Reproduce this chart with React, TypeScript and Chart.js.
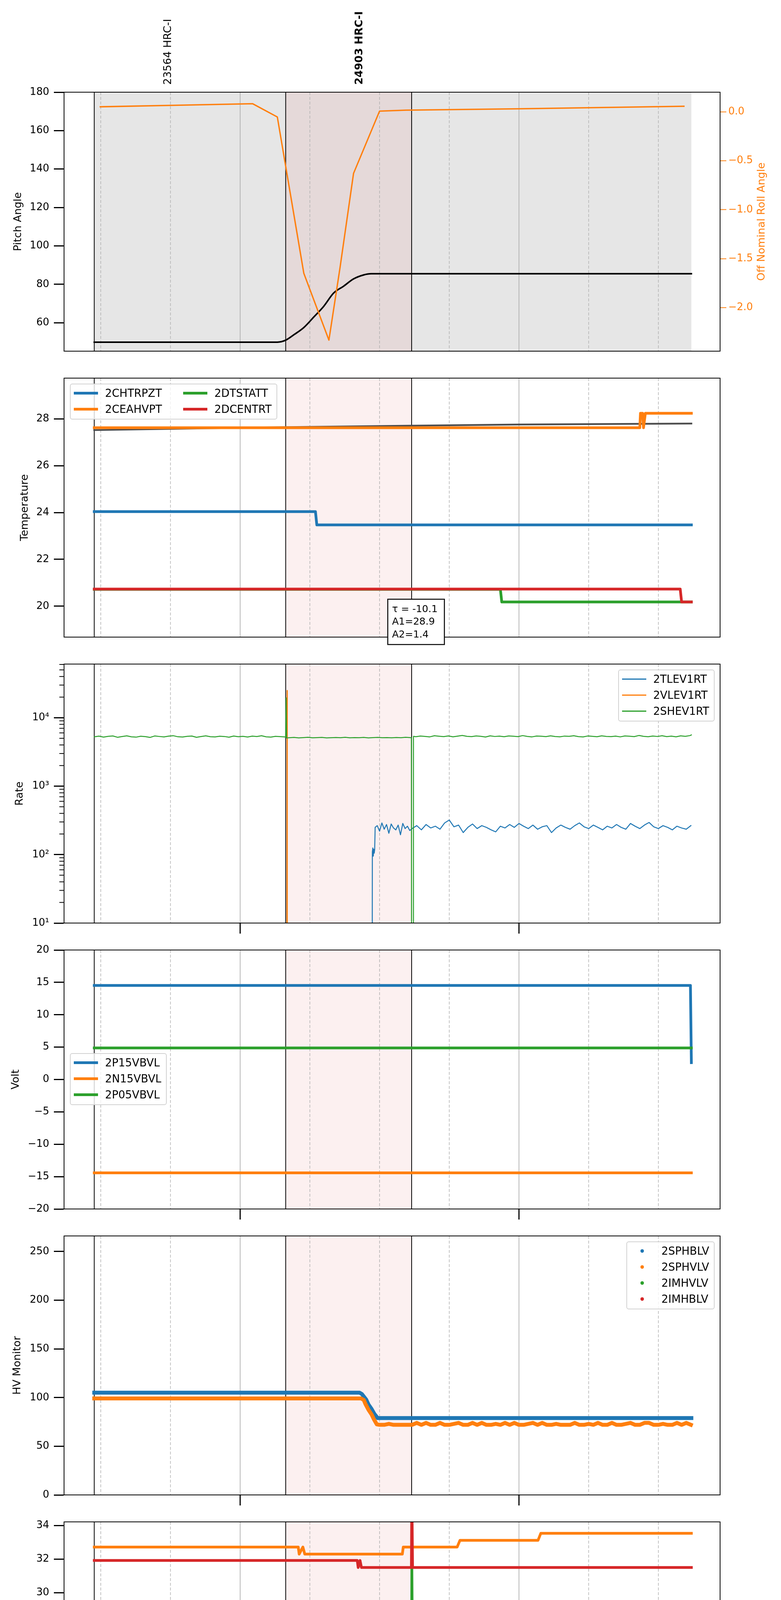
import { useEffect, useRef } from 'react';
import { Chart, registerables } from 'chart.js';

Chart.register(...registerables);

const FONT = "'DejaVu Sans', sans-serif";
Chart.defaults.font.family = FONT;

const BLUE = '#1f77b4';
const ORANGE = '#ff7f0e';
const GREEN = '#2ca02c';
const RED = '#d62728';
const COLORS = [BLUE, ORANGE, GREEN, RED];

// time axis: minutes after 17:00 on 2021-01-30
const X_MIN = 22.1;
const X_MAX = 163.28;
const DATA_START = 28.6;
const DATA_END = 157.1;
const OBS_EDGES = [28.6, 69.8, 96.9];
const PINK_SPAN = [69.8, 96.9];
const GRID_T = [30, 45, 60, 75, 90, 105, 120, 135, 150];
const GRID_LABELS = ['30', '45', '18h', '15', '30', '45', '19h', '15', '30'];
const HOUR_T = [60, 120];
const DATE_LABEL = '2021-01-30 (030)';
const OBS_NAMES = ['23564 HRC-I', '24903 HRC-I'];
const OBS_NAME_T = [44.5, 85.7];

// panel 1: pitch / roll
const PITCH_T = [28.6, 68.0, 69.7, 71.6, 73.7, 75.9, 78.0, 80.1, 82.3, 84.4, 86.6, 88.2, 157.1];
const PITCH_V = [49.9, 49.9, 50.8, 53.8, 57.5, 63.1, 68.6, 75.4, 79.1, 82.8, 84.9, 85.5, 85.5];
const ROLL_T = [29.9, 45.1, 62.7, 68.0, 73.7, 79.1, 81.5, 84.4, 90.0, 95.7, 120.0, 155.5];
const ROLL_V = [0.051, 0.065, 0.082, -0.053, -1.649, -2.331, -1.589, -0.629, 0.007, 0.017, 0.031, 0.056];
const PITCH_TICKS = [60, 80, 100, 120, 140, 160, 180];
const ROLL_TICKS = [-2, -1.5, -1, -0.5, 0];

// panel 2: temperature
const TEMP_NAMES = ['2CHTRPZT', '2CEAHVPT', '2DTSTATT', '2DCENTRT'];
const CHTRPZT_T = [28.6, 76.2, 76.5, 157.1];
const CHTRPZT_V = [24.04, 24.04, 23.47, 23.47];
const CEAHVPT_T = [28.6, 146.0, 146.15, 146.6, 146.8, 147.2, 157.1];
const CEAHVPT_V = [27.62, 27.62, 28.24, 28.24, 27.62, 28.24, 28.24];
const DTSTATT_T = [28.6, 116.0, 116.3, 157.1];
const DTSTATT_V = [20.72, 20.72, 20.18, 20.18];
const DCENTRT_T = [28.6, 154.7, 155.0, 157.1];
const DCENTRT_V = [20.73, 20.73, 20.18, 20.18];
const FIT_T = [28.6, 60, 96.8, 120, 157.1];
const FIT_V = [27.52, 27.62, 27.71, 27.76, 27.8];
const FIT_TEXT = ['\u03c4 = -10.1', 'A1=28.9', 'A2=1.4'];
const TEMP_TICKS = [20, 22, 24, 26, 28];

// panel 3: rates (log)
const RATE_NAMES = ['2TLEV1RT', '2VLEV1RT', '2SHEV1RT'];
const TLEV_EDGE_T = [28.6, 88.4, 88.45, 88.55, 88.65, 88.75, 88.85, 88.95, 89.05];
const TLEV_EDGE_V = [0.5, 0.5, 110, 125, 95, 120, 105, 118, 250];
const TLEV_A = [265, 220, 290, 235, 275, 205, 280, 245, 230, 270, 195, 285, 240, 260, 225]; // 89.5.. every 0.5 min
const TLEV_B = [
  240, 265, 230, 275, 245, 260, 235, 290, 320, 255, 270, 210, 250, 280, 240, 265, 250, 230, 215, 260,
  245, 275, 250, 285, 260, 240, 270, 235, 255, 265, 210, 245, 270, 250, 235, 265, 290, 255, 240, 270,
  250, 230, 260, 245, 275, 250, 235, 285, 260, 240, 270, 295, 255, 240, 265, 250, 230, 260, 245, 235, 265,
]; // 97.. every minute
const VLEV_T = [28.6, 70.05, 70.1, 70.15, 157.1];
const VLEV_V = [0.5, 0.5, 25000, 0.5, 0.5];
const SHEV_A = [
  5260, 5380, 5210, 5340, 5420, 5180, 5310, 5440, 5260, 5200, 5370, 5290, 5150, 5410, 5320, 5240, 5380, 5460, 5270, 5220,
  5350, 5400, 5170, 5310, 5430, 5280, 5240, 5360, 5320, 5190, 5400, 5270, 5340, 5230, 5380, 5310, 5450, 5260, 5210, 5340,
  5290, 5240,
]; // 28.6.. every minute
const SHEV_SPIKE_T = [69.8, 69.9, 70.0];
const SHEV_SPIKE_V = [5200, 19500, 5050];
const SHEV_B = [
  5100, 5150, 5080, 5130, 5170, 5090, 5120, 5160, 5070, 5110, 5140, 5100, 5180, 5090, 5130, 5110, 5150, 5080, 5120, 5160,
  5100, 5130, 5090, 5140, 5110, 5170, 5120,
]; // 70.6.. every minute
const SHEV_GAP_T = [96.85, 96.9, 97.25, 97.3];
const SHEV_GAP_V = [5100, 0.5, 0.5, 5350];
const SHEV_C = [
  5280, 5400, 5330, 5250, 5450, 5370, 5300, 5420, 5260, 5380, 5500, 5340, 5290, 5410, 5350, 5230, 5440, 5320, 5380, 5270,
  5420, 5360, 5300, 5480, 5330, 5250, 5400, 5370, 5290, 5430, 5310, 5260, 5390, 5340, 5460, 5300, 5240, 5410, 5350, 5280,
  5440, 5330, 5300, 5380, 5250, 5420, 5360, 5290, 5500, 5340, 5270, 5400, 5320, 5450, 5300, 5380, 5260, 5430, 5350, 5480,
]; // 97.8.. every minute
const SHEV_END = { x: 157.1, y: 5600 };
const RATE_TICKS = [10, 100, 1000, 10000];
const RATE_TICK_LABELS = ['10\u00b9', '10\u00b2', '10\u00b3', '10\u2074'];
const RATE_MINOR = [
  20, 30, 40, 50, 60, 70, 80, 90, 200, 300, 400, 500, 600, 700, 800, 900, 2000, 3000, 4000, 5000, 6000, 7000, 8000, 9000,
  20000, 30000, 40000, 50000, 60000,
];

// panel 4: volt
const VOLT_NAMES = ['2P15VBVL', '2N15VBVL', '2P05VBVL'];
const P15_T = [28.6, 156.9, 157.1];
const P15_V = [14.53, 14.53, 2.6];
const N15_T = [28.6, 157.1];
const N15_V = [-14.42, -14.42];
const P05_T = [28.6, 157.1];
const P05_V = [4.87, 4.87];
const VOLT_TICKS = [-20, -15, -10, -5, 0, 5, 10, 15, 20];

// panel 5: HV monitor
const HV_NAMES = ['2SPHBLV', '2SPHVLV', '2IMHVLV', '2IMHBLV'];
const SPHBLV_T = [28.6, 85.7, 86.2, 87.1, 87.6, 88.3, 88.9, 89.6, 157.1];
const SPHBLV_V = [105, 105, 103.6, 98.1, 93.0, 88.1, 83.1, 78.9, 78.9];
const SPHVLV_T = [28.6, 86.0, 86.6, 87.0, 87.6, 88.3, 88.8, 89.4];
const SPHVLV_V = [99.1, 99.1, 97.5, 93, 87.6, 82.5, 77.5, 72.5];
const SPHVLV_TAIL = [
  72, 72, 73, 72, 72, 72, 72, 72, 74, 72, 74, 72, 72, 74, 72, 72, 73, 74, 72, 72,
  74, 72, 74, 72, 72, 73, 72, 74, 72, 74, 72, 72, 73, 74, 72, 74, 72, 72, 73, 72,
  72, 72, 74, 72, 72, 73, 72, 74, 72, 72, 74, 72, 72, 73, 74, 72, 72, 74, 74, 72,
  72, 73, 72, 72, 74, 72, 74, 72,
]; // 90.. every minute
const HV_TICKS = [0, 50, 100, 150, 200, 250];

// panel 6: detector temp
const DET_NAMES = ['2SPINATM', '2SPHVATM', '2IMINATM', '2IMHVATM'];
const SPINATM_T = [28.6, 96.95, 97.0, 97.1, 157.1];
const SPINATM_V = [20.3, 20.3, 20.93, 20.3, 20.3];
const SPHVATM_T = [28.6, 72.5, 72.7, 73.5, 73.9, 94.9, 95.1, 106.7, 107.3, 124.1, 124.7, 157.1];
const SPHVATM_V = [32.72, 32.72, 32.3, 32.72, 32.3, 32.3, 32.72, 32.72, 33.12, 33.12, 33.54, 33.54];
const IMINATM_T = [28.6, 96.85, 96.95, 97.2, 128.4, 129.0, 129.6, 130.2, 157.1];
const IMINATM_V = [21.0, 21.0, 31.45, 21.0, 21.0, 20.3, 21.05, 20.3, 20.3];
const IMHVATM_T = [28.6, 85.2, 85.4, 85.8, 86.1, 96.85, 96.95, 97.1, 157.1];
const IMHVATM_V = [31.92, 31.92, 31.5, 31.92, 31.5, 31.5, 36.0, 31.5, 31.5];
const DET_TICKS = [20, 22, 24, 26, 28, 30, 32, 34];

// panel 7: FEA temp
const FEA_NAMES = ['2FHTRMZT', '2FRADPYT', '2FEPRATM', '2FE00ATM'];
const FHTRMZT_T = [28.6, 92.0, 92.2, 157.1];
const FHTRMZT_V = [22.34, 22.34, 21.81, 21.81];
const FRADPYT_T = [28.6, 65.1, 65.5, 65.9, 66.3, 66.7, 67.3, 136.2, 136.5, 136.8, 137.1, 157.1];
const FRADPYT_V = [17.16, 17.16, 16.66, 17.16, 16.66, 17.16, 16.66, 16.66, 16.18, 16.66, 16.18, 16.18];
const FEPRATM_T = [28.6, 157.1];
const FEPRATM_V = [23.88, 23.88];
const FE00ATM_T = [28.6, 59.6, 60.2, 91.9, 92.0, 92.15, 96.85, 96.95, 97.05, 129.65, 130.25, 130.6, 131.2, 131.8, 157.1];
const FE00ATM_V = [22.34, 22.34, 22.03, 22.03, 23.3, 22.03, 22.03, 26.0, 22.03, 22.03, 21.73, 21.73, 22.03, 21.73, 21.73];
const FEA_TICKS = [16, 18, 20, 22, 24];

// layout of the page
const PLOT_L = 164;
const PLOT_R = 1844;
const PLOT_H = 663;
const TOP0 = 236;
const STEP = 732;
const panelTop = (k: number) => TOP0 + k * STEP;
const canvasTop = (k: number) => (k === 0 ? 0 : panelTop(k) - 34);
const canvasBottom = (k: number) => (k === 6 ? 5400 : panelTop(k) + PLOT_H + 35);

const pts = (ts: number[], vs: number[]) => ts.map((t, i) => ({ x: t, y: vs[i] }));
const run = (t0: number, step: number, vs: number[]) =>
  vs.map((v, i) => ({ x: Math.round((t0 + i * step) * 100) / 100, y: v }));
const minus = (s: string) => s.replace('-', '\u2212');

function line(label: string, color: string, width: number, data: any[], i: number, extra: any = {}) {
  return {
    label,
    data,
    borderColor: color,
    backgroundColor: color,
    borderWidth: width,
    pointRadius: 0,
    fill: false,
    tension: 0,
    clip: 0,
    order: -i,
    borderJoinStyle: 'round',
    borderCapStyle: 'square',
    ...extra,
  };
}

function leftAxis(min: number, max: number, ticks: number[], label: (v: number, i: number) => string, type = 'linear') {
  return {
    type,
    position: 'left',
    min,
    max,
    afterBuildTicks: (axis: any) => {
      axis.ticks = ticks.map((v) => ({ value: v }));
    },
    afterFit: (axis: any) => {
      axis.width = PLOT_L;
    },
    ticks: {
      autoSkip: false,
      color: '#000',
      padding: 12,
      font: { family: FONT, size: 26 },
      callback: (v: number, i: number) => label(v, i),
    },
    grid: { display: true, drawOnChartArea: false, drawTicks: true, tickLength: 26, tickWidth: 3, tickColor: '#000' },
    border: { display: true, color: '#000', width: 2 },
  };
}

const num = (v: number) => minus(String(v));

const PANELS: any[] = [
  {
    title: 'Pitch Angle',
    titleX: 47,
    grayShade: true,
    datasets: () => [
      line('Pitch', '#000', 4, pts(PITCH_T, PITCH_V), 0, { cubicInterpolationMode: 'monotone' }),
      line('Roll', ORANGE, 3.5, pts(ROLL_T, ROLL_V), 1, { yAxisID: 'y2' }),
    ],
    y: leftAxis(45.2, 180, PITCH_TICKS, num),
    y2: {
      type: 'linear',
      position: 'right',
      min: -2.444,
      max: 0.2,
      afterBuildTicks: (axis: any) => {
        axis.ticks = ROLL_TICKS.map((v) => ({ value: v }));
      },
      afterFit: (axis: any) => {
        axis.width = 2000 - PLOT_R;
      },
      ticks: {
        autoSkip: false,
        color: ORANGE,
        padding: 5,
        font: { family: FONT, size: 26 },
        callback: (v: number) => minus(v.toFixed(1)),
      },
      grid: { display: true, drawOnChartArea: false, drawTicks: true, tickLength: 16, tickWidth: 2, tickColor: ORANGE },
      border: { display: true, color: '#000', width: 2 },
    },
    extra: (ctx: any, chart: any, top: number) => {
      const px = (t: number) => chart.scales.x.getPixelForValue(t);
      OBS_NAMES.forEach((name, i) => {
        ctx.save();
        ctx.translate(px(OBS_NAME_T[i]), 217 - top);
        ctx.rotate(-Math.PI / 2);
        ctx.font = `${i === 1 ? 'bold ' : ''}27px ${FONT}`;
        ctx.fillStyle = '#000';
        ctx.textAlign = 'left';
        ctx.textBaseline = 'middle';
        ctx.fillText(name, 0, 0);
        ctx.restore();
      });
      const a = chart.chartArea;
      ctx.save();
      ctx.translate(1951, (a.top + a.bottom) / 2);
      ctx.rotate(-Math.PI / 2);
      ctx.font = `27px ${FONT}`;
      ctx.fillStyle = ORANGE;
      ctx.textAlign = 'center';
      ctx.textBaseline = 'middle';
      ctx.fillText('Off Nominal Roll Angle', 0, 0);
      ctx.restore();
    },
  },
  {
    title: 'Temperature',
    titleX: 64,
    datasets: () => [
      line('fit', '#4d4d4d', 4.5, pts(FIT_T, FIT_V), 0),
      line(TEMP_NAMES[0], BLUE, 7, pts(CHTRPZT_T, CHTRPZT_V), 1),
      line(TEMP_NAMES[1], ORANGE, 7, pts(CEAHVPT_T, CEAHVPT_V), 2),
      line(TEMP_NAMES[2], GREEN, 7, pts(DTSTATT_T, DTSTATT_V), 3),
      line(TEMP_NAMES[3], RED, 7, pts(DCENTRT_T, DCENTRT_V), 4),
    ],
    y: leftAxis(18.68, 29.74, TEMP_TICKS, num),
    legend: { names: TEMP_NAMES, left: 179, top: 982, ncol: 2, width: 7 },
    extra: (ctx: any, _chart: any, top: number) => {
      ctx.save();
      ctx.fillStyle = '#fff';
      ctx.fillRect(993, 1534 - top, 145, 116);
      ctx.strokeStyle = '#000';
      ctx.lineWidth = 2.5;
      ctx.strokeRect(993, 1534 - top, 145, 116);
      ctx.fillStyle = '#000';
      ctx.font = `25px ${FONT}`;
      ctx.textAlign = 'left';
      ctx.textBaseline = 'alphabetic';
      const base = [1567, 1599, 1632];
      FIT_TEXT.forEach((s, i) => ctx.fillText(s, 1004, base[i] - top));
      ctx.restore();
    },
  },
  {
    title: 'Rate',
    titleX: 51,
    hourTicks: true,
    logMinor: RATE_MINOR,
    datasets: () => [
      line(RATE_NAMES[0], BLUE, 2.5, [...pts(TLEV_EDGE_T, TLEV_EDGE_V), ...run(89.5, 0.5, TLEV_A), ...run(97, 1, TLEV_B)], 0),
      line(RATE_NAMES[1], ORANGE, 2.5, pts(VLEV_T, VLEV_V), 1),
      line(
        RATE_NAMES[2],
        GREEN,
        2.5,
        [
          ...run(28.6, 1, SHEV_A),
          ...pts(SHEV_SPIKE_T, SHEV_SPIKE_V),
          ...run(70.6, 1, SHEV_B),
          ...pts(SHEV_GAP_T, SHEV_GAP_V),
          ...run(97.8, 1, SHEV_C),
          SHEV_END,
        ],
        2,
      ),
    ],
    y: leftAxis(10, 60800, RATE_TICKS, (_v, i) => RATE_TICK_LABELS[i], 'logarithmic'),
    legend: { names: RATE_NAMES, right: 170, top: 1714, width: 2.5 },
  },
  {
    title: 'Volt',
    titleX: 41,
    hourTicks: true,
    datasets: () => [
      line(VOLT_NAMES[0], BLUE, 7, pts(P15_T, P15_V), 0),
      line(VOLT_NAMES[1], ORANGE, 7, pts(N15_T, N15_V), 1),
      line(VOLT_NAMES[2], GREEN, 7, pts(P05_T, P05_V), 2),
    ],
    y: leftAxis(-20, 20, VOLT_TICKS, num),
    legend: { names: VOLT_NAMES, left: 179, top: 2696, width: 7 },
  },
  {
    title: 'HV Monitor',
    titleX: 45,
    hourTicks: true,
    datasets: () => [
      line(HV_NAMES[0], BLUE, 10, pts(SPHBLV_T, SPHBLV_V), 0),
      line(HV_NAMES[1], ORANGE, 10, [...pts(SPHVLV_T, SPHVLV_V), ...run(90, 1, SPHVLV_TAIL)], 1),
      line(HV_NAMES[2], GREEN, 10, [], 2),
      line(HV_NAMES[3], RED, 10, [], 3),
    ],
    y: leftAxis(0, 266, HV_TICKS, num),
    legend: { names: HV_NAMES, right: 170, top: 3178, marker: true },
  },
  {
    title: 'Detector Temp',
    titleX: 66,
    hourTicks: true,
    datasets: () => [
      line(DET_NAMES[0], BLUE, 7, pts(SPINATM_T, SPINATM_V), 0),
      line(DET_NAMES[1], ORANGE, 7, pts(SPHVATM_T, SPHVATM_V), 1),
      line(DET_NAMES[2], GREEN, 7, pts(IMINATM_T, IMINATM_V), 2),
      line(DET_NAMES[3], RED, 7, pts(IMHVATM_T, IMHVATM_V), 3),
    ],
    y: leftAxis(18.79, 34.22, DET_TICKS, num),
    legend: { names: DET_NAMES, right: 170, top: 4140, width: 7 },
  },
  {
    title: 'FEA Temp',
    titleX: 65,
    hourTicks: true,
    datasets: () => [
      line(FEA_NAMES[0], BLUE, 7, pts(FHTRMZT_T, FHTRMZT_V), 0),
      line(FEA_NAMES[1], ORANGE, 7, pts(FRADPYT_T, FRADPYT_V), 1),
      line(FEA_NAMES[2], GREEN, 7, pts(FEPRATM_T, FEPRATM_V), 2),
      line(FEA_NAMES[3], RED, 7, pts(FE00ATM_T, FE00ATM_V), 3),
    ],
    y: leftAxis(15.15, 25.37, FEA_TICKS, num),
    legend: { names: FEA_NAMES, right: 170, top: 4872, width: 7 },
    extra: (ctx: any, chart: any, top: number) => {
      const px = (t: number) => chart.scales.x.getPixelForValue(t);
      ctx.save();
      ctx.fillStyle = '#000';
      ctx.textAlign = 'center';
      ctx.textBaseline = 'alphabetic';
      GRID_T.forEach((t, i) => {
        const hour = HOUR_T.includes(t);
        ctx.font = `${hour ? 26 : 17}px ${FONT}`;
        ctx.fillText(GRID_LABELS[i], px(t), (hour ? 5350 : 5312) - top);
      });
      const a = chart.chartArea;
      ctx.font = `31px ${FONT}`;
      ctx.fillText(DATE_LABEL, (a.left + a.right) / 2, 5388 - top);
      ctx.restore();
    },
  },
];

function decor(k: number, spec: any, top: number) {
  return {
    id: `decor${k}`,
    beforeDatasetsDraw(chart: any) {
      const { ctx, chartArea: a } = chart;
      const px = (t: number) => chart.scales.x.getPixelForValue(t);
      const h = a.bottom - a.top;
      ctx.save();
      ctx.beginPath();
      ctx.rect(a.left, a.top, a.right - a.left, h);
      ctx.clip();
      if (spec.grayShade) {
        ctx.fillStyle = 'rgba(128,128,128,0.2)';
        ctx.fillRect(px(DATA_START), a.top, px(DATA_END) - px(DATA_START), h);
      }
      ctx.fillStyle = 'rgba(214,39,40,0.07)';
      ctx.fillRect(px(PINK_SPAN[0]), a.top, px(PINK_SPAN[1]) - px(PINK_SPAN[0]), h);
      ctx.strokeStyle = '#b0b0b0';
      for (const t of GRID_T) {
        const hour = HOUR_T.includes(t);
        ctx.lineWidth = hour ? 1.8 : 1.5;
        ctx.setLineDash(hour ? [] : [7.5, 4.5]);
        ctx.beginPath();
        ctx.moveTo(px(t), a.top);
        ctx.lineTo(px(t), a.bottom);
        ctx.stroke();
      }
      ctx.setLineDash([]);
      ctx.strokeStyle = '#000';
      ctx.lineWidth = 2;
      for (const t of OBS_EDGES) {
        ctx.beginPath();
        ctx.moveTo(px(t), a.top);
        ctx.lineTo(px(t), a.bottom);
        ctx.stroke();
      }
      ctx.restore();
    },
    afterDatasetsDraw(chart: any) {
      const { ctx, chartArea: a } = chart;
      const px = (t: number) => chart.scales.x.getPixelForValue(t);
      ctx.save();
      ctx.strokeStyle = '#000';
      ctx.lineWidth = 2;
      ctx.strokeRect(a.left, a.top, a.right - a.left, a.bottom - a.top);
      if (spec.hourTicks) {
        ctx.lineWidth = 3;
        for (const t of HOUR_T) {
          ctx.beginPath();
          ctx.moveTo(px(t), a.bottom);
          ctx.lineTo(px(t), a.bottom + 27);
          ctx.stroke();
        }
      }
      if (spec.logMinor) {
        const y = chart.scales.y;
        ctx.lineWidth = 2;
        for (const v of spec.logMinor) {
          const py = y.getPixelForValue(v);
          if (py < a.top) continue;
          ctx.beginPath();
          ctx.moveTo(a.left - 12, py);
          ctx.lineTo(a.left, py);
          ctx.stroke();
        }
      }
      ctx.translate(spec.titleX, (a.top + a.bottom) / 2);
      ctx.rotate(-Math.PI / 2);
      ctx.font = `27px ${FONT}`;
      ctx.fillStyle = '#000';
      ctx.textAlign = 'center';
      ctx.textBaseline = 'middle';
      ctx.fillText(spec.title, 0, 0);
      ctx.restore();
      if (spec.extra) spec.extra(ctx, chart, top);
    },
  };
}

function Panel({ k, spec }: { k: number; spec: any }) {
  const canvasRef = useRef<HTMLCanvasElement>(null);
  const top = canvasTop(k);
  const height = canvasBottom(k) - top;

  useEffect(() => {
    if (!canvasRef.current) return;
    const padTop = panelTop(k) - top;
    const padBottom = height - padTop - PLOT_H;
    const scales: any = {
      x: { type: 'linear', min: X_MIN, max: X_MAX, display: false },
      y: spec.y,
    };
    if (spec.y2) scales.y2 = spec.y2;
    const chart = new Chart(canvasRef.current, {
      type: 'line',
      data: { datasets: spec.datasets() },
      options: {
        animation: false,
        responsive: false,
        devicePixelRatio: 1,
        events: [],
        layout: { padding: { top: padTop, bottom: padBottom, left: 0, right: spec.y2 ? 0 : 2000 - PLOT_R } },
        plugins: { legend: { display: false }, tooltip: { enabled: false } },
        scales,
      },
      plugins: [decor(k, spec, top)],
    } as any);
    return () => chart.destroy();
  }, []);

  return (
    <canvas
      ref={canvasRef}
      width={2000}
      height={height}
      style={{ position: 'absolute', left: 0, top, width: 2000, height, display: 'block' }}
    />
  );
}

function Legend({ spec }: { spec: any }) {
  const items = spec.names.map((n: string, i: number) => ({ name: n, color: COLORS[i] }));
  const ncol = spec.ncol || 1;
  const perCol = Math.ceil(items.length / ncol);
  const cols: any[][] = [];
  for (let c = 0; c < ncol; c++) cols.push(items.slice(c * perCol, (c + 1) * perCol));
  const pos: any = { top: spec.top };
  if (spec.left !== undefined) pos.left = spec.left;
  else pos.right = spec.right;
  return (
    <div
      style={{
        position: 'absolute',
        ...pos,
        display: 'flex',
        border: '2px solid #d2d2d2',
        borderRadius: 6,
        background: 'rgba(255,255,255,0.8)',
        padding: '2px 12px 4px 8px',
        fontFamily: FONT,
        fontSize: 27.5,
        lineHeight: '41px',
        color: '#000',
        whiteSpace: 'nowrap',
      }}
    >
      {cols.map((col, c) => (
        <div key={c} style={{ display: 'flex', flexDirection: 'column', width: c < ncol - 1 ? 280 : undefined }}>
          {col.map((it: any) => (
            <div key={it.name} style={{ display: 'flex', alignItems: 'center', height: 41 }}>
              <span
                style={{
                  width: 62,
                  height: 41,
                  marginRight: 18,
                  display: 'inline-flex',
                  alignItems: 'center',
                  justifyContent: 'center',
                }}
              >
                {spec.marker ? (
                  <span style={{ width: 9, height: 9, borderRadius: 5, background: it.color, display: 'block' }} />
                ) : (
                  <span style={{ width: 62, height: spec.width, background: it.color, display: 'block' }} />
                )}
              </span>
              <span>{it.name}</span>
            </div>
          ))}
        </div>
      ))}
    </div>
  );
}

export default function App() {
  return (
    <div style={{ position: 'absolute', left: 0, top: 0, width: 2000, height: 5400, background: '#fff' }}>
      {PANELS.map((spec, k) => (
        <Panel key={k} k={k} spec={spec} />
      ))}
      {PANELS.filter((p) => p.legend).map((p, i) => (
        <Legend key={i} spec={p.legend} />
      ))}
    </div>
  );
}
